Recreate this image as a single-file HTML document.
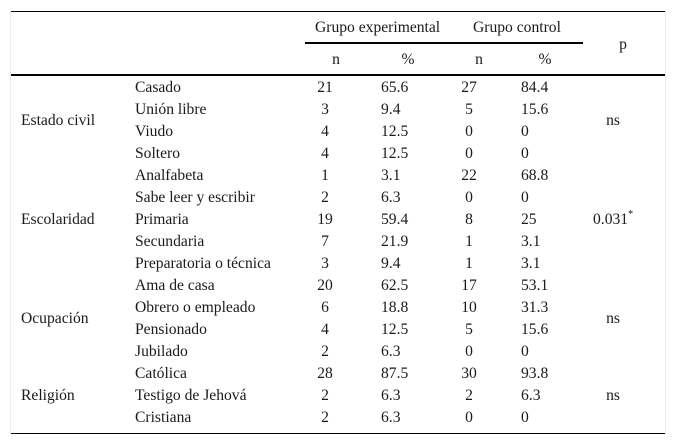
<!DOCTYPE html>
<html lang="es">
<head>
<meta charset="utf-8">
<style>
html,body{margin:0;padding:0;background:#fff}
#t{position:relative;width:676px;height:445px;overflow:hidden;background:#fff;font-family:"Liberation Serif",serif;font-size:15.6px;color:#1a1a1a}
#t div.l{position:absolute;background:#000}
#t div.e{position:absolute;background:#ececec}
.r{position:absolute;left:0;width:676px;height:22px;line-height:22px;margin-top:1px}
.r span,.h{position:absolute;white-space:nowrap;height:22px;line-height:22px}
.h{margin-top:1px}
.c1{left:21px}
.c2{left:135px}
.c3{left:295px;width:60px;text-align:center}
.c4{left:381px}
.c5{left:439px;width:60px;text-align:center}
.c6{left:521px}
.c7{left:583px;width:60px;text-align:center}
sup{font-size:10px;line-height:0;position:relative;top:-1px;vertical-align:super}
</style>
</head>
<body>
<div id="t">
<div class="e" style="left:10px;top:11px;width:1px;height:423px"></div>
<div class="e" style="left:665px;top:11px;width:1px;height:423px"></div>
<div class="l" style="left:11px;top:11px;width:654px;height:1px"></div>
<div class="l" style="left:305px;top:42px;width:278px;height:2px"></div>
<div class="l" style="left:11px;top:74px;width:654px;height:2px"></div>
<div class="l" style="left:11px;top:433px;width:654px;height:1px"></div>

<div class="h" style="left:315px;top:16px">Grupo experimental</div>
<div class="h" style="left:473px;top:16px">Grupo control</div>
<div class="h" style="left:593px;width:60px;text-align:center;top:33px">p</div>
<div class="h" style="left:306px;width:60px;text-align:center;top:48px">n</div>
<div class="h" style="left:378px;width:60px;text-align:center;top:48px">%</div>
<div class="h" style="left:449px;width:60px;text-align:center;top:48px">n</div>
<div class="h" style="left:515px;width:60px;text-align:center;top:48px">%</div>

<div class="h c1" style="top:109px">Estado civil</div>
<div class="h c1" style="top:208px">Escolaridad</div>
<div class="h c1" style="top:307px">Ocupación</div>
<div class="h c1" style="top:384px">Religión</div>
<div class="h c7" style="top:109px">ns</div>
<div class="h" style="left:593px;top:208px">0.031<sup>*</sup></div>
<div class="h c7" style="top:307px">ns</div>
<div class="h c7" style="top:384px">ns</div>

<div class="r" style="top:76px"><span class="c2">Casado</span><span class="c3">21</span><span class="c4">65.6</span><span class="c5">27</span><span class="c6">84.4</span></div>
<div class="r" style="top:98px"><span class="c2">Unión libre</span><span class="c3">3</span><span class="c4">9.4</span><span class="c5">5</span><span class="c6">15.6</span></div>
<div class="r" style="top:120px"><span class="c2">Viudo</span><span class="c3">4</span><span class="c4">12.5</span><span class="c5">0</span><span class="c6">0</span></div>
<div class="r" style="top:142px"><span class="c2">Soltero</span><span class="c3">4</span><span class="c4">12.5</span><span class="c5">0</span><span class="c6">0</span></div>
<div class="r" style="top:164px"><span class="c2">Analfabeta</span><span class="c3">1</span><span class="c4">3.1</span><span class="c5">22</span><span class="c6">68.8</span></div>
<div class="r" style="top:186px"><span class="c2">Sabe leer y escribir</span><span class="c3">2</span><span class="c4">6.3</span><span class="c5">0</span><span class="c6">0</span></div>
<div class="r" style="top:208px"><span class="c2">Primaria</span><span class="c3">19</span><span class="c4">59.4</span><span class="c5">8</span><span class="c6">25</span></div>
<div class="r" style="top:230px"><span class="c2">Secundaria</span><span class="c3">7</span><span class="c4">21.9</span><span class="c5">1</span><span class="c6">3.1</span></div>
<div class="r" style="top:252px"><span class="c2">Preparatoria o técnica</span><span class="c3">3</span><span class="c4">9.4</span><span class="c5">1</span><span class="c6">3.1</span></div>
<div class="r" style="top:274px"><span class="c2">Ama de casa</span><span class="c3">20</span><span class="c4">62.5</span><span class="c5">17</span><span class="c6">53.1</span></div>
<div class="r" style="top:296px"><span class="c2">Obrero o empleado</span><span class="c3">6</span><span class="c4">18.8</span><span class="c5">10</span><span class="c6">31.3</span></div>
<div class="r" style="top:318px"><span class="c2">Pensionado</span><span class="c3">4</span><span class="c4">12.5</span><span class="c5">5</span><span class="c6">15.6</span></div>
<div class="r" style="top:340px"><span class="c2">Jubilado</span><span class="c3">2</span><span class="c4">6.3</span><span class="c5">0</span><span class="c6">0</span></div>
<div class="r" style="top:362px"><span class="c2">Católica</span><span class="c3">28</span><span class="c4">87.5</span><span class="c5">30</span><span class="c6">93.8</span></div>
<div class="r" style="top:384px"><span class="c2">Testigo de Jehová</span><span class="c3">2</span><span class="c4">6.3</span><span class="c5">2</span><span class="c6">6.3</span></div>
<div class="r" style="top:406px"><span class="c2">Cristiana</span><span class="c3">2</span><span class="c4">6.3</span><span class="c5">0</span><span class="c6">0</span></div>
</div>
</body>
</html>
